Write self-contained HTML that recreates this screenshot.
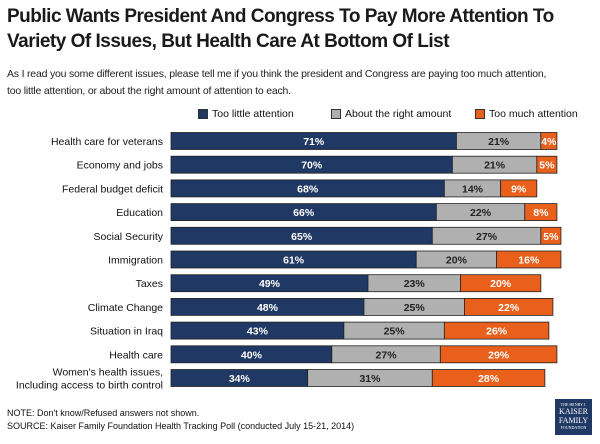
<!DOCTYPE html>
<html><head><meta charset="utf-8"><style>
body{margin:0;width:600px;height:444px;background:#fff;font-family:"Liberation Sans",sans-serif;position:relative;overflow:hidden}
.t{position:absolute;left:7px;top:4px;font-size:19px;font-weight:bold;color:#1a1a1a;line-height:25px;letter-spacing:-0.5px}
.s{position:absolute;left:7px;top:66px;font-size:10.5px;color:#222;line-height:17px;letter-spacing:-0.2px}
.lg{position:absolute;top:108px;font-size:10.5px;color:#111;display:flex;align-items:center}
.sw{width:8px;height:8px;margin-right:4px;border:1px solid #333}
.n{position:absolute;left:7px;font-size:9px;color:#111}
</style></head><body>
<div class="t">Public Wants President And Congress To Pay More Attention To<br>Variety Of Issues, But Health Care At Bottom Of List</div>
<div class="s">As I read you some different issues, please tell me if you think the president and Congress are paying too much attention,<br>too little attention, or about the right amount of attention to each.</div>
<div class="lg" style="left:198px"><span class="sw" style="background:#1f3864"></span>Too little attention</div>
<div class="lg" style="left:331px"><span class="sw" style="background:#b0b0b0"></span>About the right amount</div>
<div class="lg" style="left:475px"><span class="sw" style="background:#e8601c"></span>Too much attention</div>
<svg id="c" width="600" height="444" style="position:absolute;left:0;top:0"></svg>
<div class="n" style="top:408px">NOTE: Don't know/Refused answers not shown.</div>
<div class="n" style="top:421px">SOURCE: Kaiser Family Foundation Health Tracking Poll (conducted July 15-21, 2014)</div>
<div style="position:absolute;left:555px;top:399px;width:37px;height:36px;background:#1f3864;color:#fff;font-family:'Liberation Serif',serif;font-size:8px;line-height:9px;text-align:center;padding-top:3px;box-sizing:border-box"><span style="font-size:4px;line-height:5px;display:block">THE HENRY J.</span>KAISER<br>FAMILY<span style="font-size:4px;line-height:5px;display:block">FOUNDATION</span></div>
<script>
const categories=["Health care for veterans","Economy and jobs","Federal budget deficit","Education","Social Security","Immigration","Taxes","Climate Change","Situation in Iraq","Health care","Women's health issues,|Including access to birth control"];
const tooLittle=[71,70,68,66,65,61,49,48,43,40,34];
const rightAmount=[21,21,14,22,27,20,23,25,25,27,31];
const tooMuch=[4,5,9,8,5,16,20,22,26,29,28];
const svg=document.getElementById('c');const NS='http://www.w3.org/2000/svg';
const x0=171,pp=4.02,y0=141,dy=23.7,bh=17;
const xs=v=>v*pp;const yc=i=>y0+i*dy;
function mk(t,a,txt){const e=document.createElementNS(NS,t);for(const k in a)e.setAttribute(k,a[k]);if(txt!=null)e.textContent=txt;svg.appendChild(e);return e;}
const series=[[tooLittle,'#1f3864','#fff','too-little'],[rightAmount,'#b0b0b0','#222','right-amount'],[tooMuch,'#e8601c','#fff','too-much']];
categories.forEach((c,i)=>{
  const y=yc(i);const lines=c.split('|');
  lines.forEach((l,j)=>{const t=mk('text',{x:163,y:y+4+(j-(lines.length-1)/2)*13,'text-anchor':'end','font-size':'10.5',fill:'#111'},l);
  });
  let x=x0;
  series.forEach(([arr,col,tc,nm])=>{const w=xs(arr[i]);
    const r=mk('rect',{x:x,y:y-bh/2,width:w,height:bh,fill:col,stroke:'#222','stroke-width':'0.8'});
    
    const t=mk('text',{x:x+w/2,y:y+4,'text-anchor':'middle','font-size':'10.5','font-weight':'bold',fill:tc},arr[i]+'%');
    
    x+=w;});
});
</script>
</body></html>
